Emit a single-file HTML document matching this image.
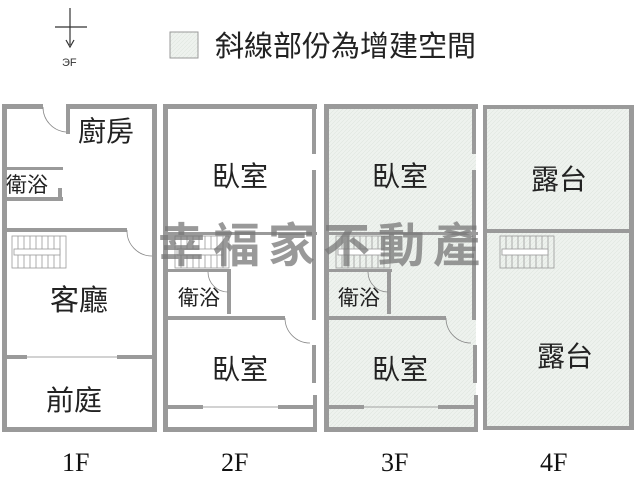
<!DOCTYPE html>
<html><head><meta charset="utf-8"><style>
html,body{margin:0;padding:0;background:#fff;width:640px;height:480px;overflow:hidden}
svg{display:block}
.t{font-family:"Liberation Sans","Noto Sans CJK TC",sans-serif;fill:#222}
.f{font-family:"Liberation Serif",serif;fill:#111;font-size:26px}
</style></head><body>
<svg width="640" height="480" viewBox="0 0 640 480">
<defs>
<pattern id="h" width="4" height="4" patternUnits="userSpaceOnUse"><rect width="4" height="4" fill="#eef2ee"/><path d="M0 4L4 0" stroke="#dfe6df" stroke-width="0.6"/></pattern>
</defs>
<g stroke="#333" stroke-width="1.2" fill="none">
<line x1="70" y1="8" x2="70" y2="45"/><line x1="55" y1="27" x2="87" y2="27"/>
<path d="M66 40L70 47L74 40"/></g>
<text x="62" y="66" font-size="11" font-family="Liberation Sans" fill="#333">ЭF</text>
<rect x="170" y="32" width="28" height="26" fill="url(#h)" stroke="#999"/>
<text class="t" x="215" y="56" font-size="29">斜線部份為增建空間</text>

<rect x="326" y="106" width="150" height="324" fill="url(#h)"/>
<rect x="485" y="108" width="147" height="320" fill="url(#h)"/>

<g fill="#9a9a9a">
<rect x="2" y="104" width="41" height="5"/><rect x="68" y="104" width="89" height="5"/>
<rect x="66" y="104" width="4" height="30"/>
<rect x="2" y="104" width="5" height="328"/><rect x="152" y="104" width="5" height="328"/>
<rect x="2" y="427" width="155" height="5"/>
<rect x="2" y="167" width="61" height="3"/><rect x="2" y="197" width="61" height="4"/><rect x="58" y="188" width="4" height="12"/>
<rect x="2" y="228" width="125" height="4"/>
<rect x="2" y="355" width="25" height="4"/><rect x="117" y="355" width="40" height="4"/>
<rect x="163" y="104" width="154" height="5"/>
<rect x="163" y="104" width="5" height="328"/><rect x="163" y="427" width="154" height="5"/>
<rect x="312" y="104" width="4" height="50"/><rect x="312" y="170" width="4" height="150"/><rect x="312" y="345" width="4" height="38"/><rect x="313" y="395" width="4" height="37"/>
<rect x="163" y="232" width="154" height="3"/>
<rect x="163" y="269" width="68" height="3"/><rect x="227" y="269" width="4" height="45"/>
<rect x="163" y="316" width="122" height="4"/>
<rect x="163" y="405" width="40" height="4"/><rect x="278" y="405" width="39" height="4"/>
<rect x="324" y="104" width="154" height="5"/>
<rect x="324" y="104" width="5" height="328"/><rect x="324" y="427" width="154" height="5"/>
<rect x="472" y="104" width="4" height="50"/><rect x="472" y="170" width="4" height="150"/><rect x="473" y="345" width="4" height="38"/><rect x="474" y="395" width="4" height="37"/>
<rect x="324" y="232" width="154" height="3"/>
<rect x="324" y="269" width="68" height="3"/><rect x="387" y="269" width="4" height="45"/>
<rect x="324" y="316" width="122" height="4"/>
<rect x="324" y="405" width="40" height="4"/><rect x="438" y="405" width="40" height="4"/>
<rect x="483" y="105" width="151" height="4"/>
<rect x="483" y="105" width="4" height="325"/><rect x="629" y="105" width="5" height="325"/>
<rect x="483" y="426" width="151" height="4"/>
<rect x="483" y="229" width="151" height="4"/>
</g>
<g stroke="#888" stroke-width="0.8" fill="none">
<line x1="27" y1="357" x2="117" y2="357"/>
<line x1="203" y1="407" x2="278" y2="407"/><line x1="364" y1="407" x2="438" y2="407"/>
<path d="M43 107A25 25 0 0 0 66 132"/>
<path d="M127 230A25 25 0 0 0 152 256"/>
<path d="M285 318A25 25 0 0 0 310 343"/><path d="M446 318A25 25 0 0 0 471 343"/>
<path d="M208 272A20 20 0 0 0 228 292"/><path d="M368 272A20 20 0 0 0 388 292"/>
</g>
<g stroke="#999" stroke-width="0.8" fill="none">
<g id="st"><rect x="12" y="236" width="54" height="32"/>
<path d="M18 236V268M24 236V268M30 236V268M36 236V268M42 236V268M48 236V268M54 236V268M60 236V268"/>
<rect x="14" y="249" width="46" height="6" fill="#fff"/></g>
<use href="#st" x="163"/><use href="#st" x="324"/><use href="#st" x="488"/>
</g>
<g class="t">
<text x="78" y="141" font-size="28">廚房</text>
<text x="6" y="192" font-size="21">衛浴</text>
<text x="50" y="310" font-size="29">客廳</text>
<text x="46" y="410" font-size="28">前庭</text>
<text x="212" y="186" font-size="28">臥室</text>
<text x="178" y="305" font-size="21">衛浴</text>
<text x="212" y="379" font-size="28">臥室</text>
<text x="372" y="186" font-size="28">臥室</text>
<text x="338" y="305" font-size="21">衛浴</text>
<text x="372" y="379" font-size="28">臥室</text>
<text x="531" y="189" font-size="28">露台</text>
<text x="537" y="366" font-size="28">露台</text>
</g>
<text x="158" y="262" font-size="47" font-weight="bold" letter-spacing="8" font-family="Liberation Sans,Noto Sans CJK TC,sans-serif" fill="#777" fill-opacity="0.75">幸福家不動產</text>
<text class="f" x="62" y="471">1F</text>
<text class="f" x="221" y="471">2F</text>
<text class="f" x="381" y="471">3F</text>
<text class="f" x="540" y="471">4F</text>
</svg>
</body></html>
